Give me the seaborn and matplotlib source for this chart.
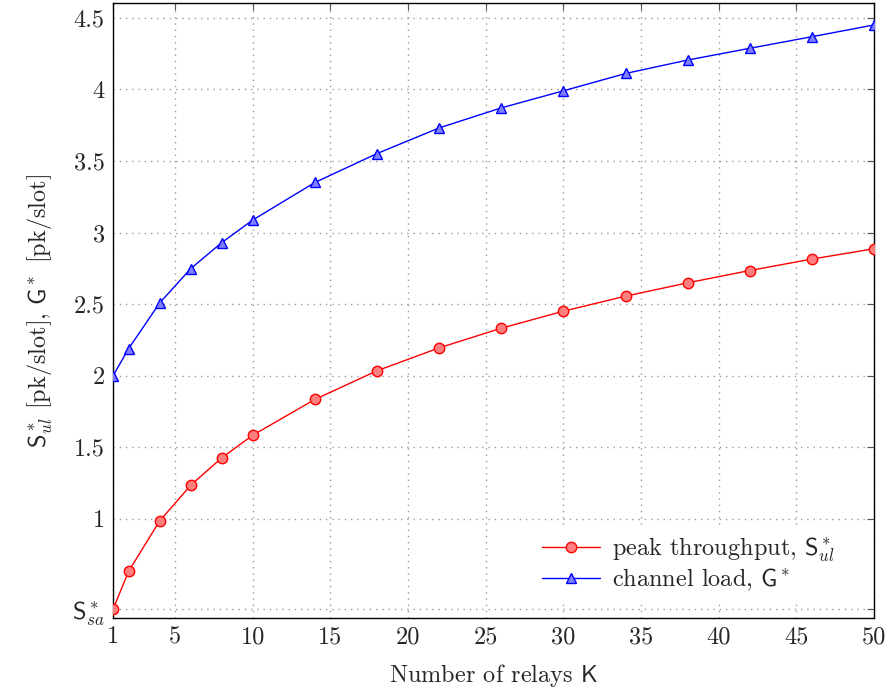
import numpy as np
import pandas as pd
import matplotlib
matplotlib.use("Agg")
import matplotlib.pyplot as plt
import seaborn as sns

# ---------- data ---------- #
relays = [1, 2, 4, 6, 8, 10, 14, 18, 22, 26, 30, 34, 38, 42, 46, 50]
peak_throughput = [0.368, 0.634, 0.986, 1.235, 1.427, 1.585, 1.835, 2.035,
                   2.195, 2.332, 2.451, 2.556, 2.649, 2.735, 2.815, 2.887]
channel_load = [2.0, 2.189, 2.508, 2.748, 2.930, 3.088, 3.350, 3.552,
                3.731, 3.871, 3.990, 4.111, 4.205, 4.287, 4.368, 4.450]
s_sa = 0.368

x_ticks = [1, 5, 10, 15, 20, 25, 30, 35, 40, 45, 50]
y_ticks = [s_sa, 1, 1.5, 2, 2.5, 3, 3.5, 4, 4.5]
y_tick_labels = [r'$\mathsf{S}^*_{sa}$', '1', '1.5', '2', '2.5', '3', '3.5', '4', '4.5']

df = pd.DataFrame({'K': relays, 'S': peak_throughput, 'G': channel_load})

# ---------- style ---------- #
sns.set_style('white')
plt.rcParams['font.family'] = 'serif'
plt.rcParams['font.serif'] = ['cmr10', 'DejaVu Serif']
plt.rcParams['mathtext.fontset'] = 'cm'
plt.rcParams['axes.unicode_minus'] = False
plt.rcParams['axes.formatter.use_mathtext'] = True

fs = 17.5

fig = plt.figure(figsize=(8.88, 6.93), dpi=100)
ax = fig.add_axes([0.1273, 0.1082, 0.857, 0.8874])

sns.lineplot(data=df, x='K', y='S', ax=ax, color='red', lw=1.0,
             marker='o', markersize=7.5, markerfacecolor='#ff7f7f',
             markeredgecolor='red', markeredgewidth=1.0,
             label=r'peak throughput, $\mathsf{S}^*_{ul}$', zorder=3)
sns.lineplot(data=df, x='K', y='G', ax=ax, color='blue', lw=1.0,
             marker='^', markersize=7.5, markerfacecolor='#7f7fff',
             markeredgecolor='blue', markeredgewidth=1.0,
             label=r'channel load, $\mathsf{G}^*$', zorder=3)

ax.set_xlim(1, 50)
ax.set_ylim(0.308, 4.603)
ax.set_xticks(x_ticks)
ax.set_xticklabels([str(t) for t in x_ticks], fontsize=fs)
ax.set_yticks(y_ticks)
ax.set_yticklabels(y_tick_labels, fontsize=fs)

ax.tick_params(direction='in', length=5, width=0.8, color='#555555',
               top=True, right=True, pad=6)
ax.grid(True, color='#999999', linestyle=(0, (1, 3.5)), lw=1.0)
for sp in ax.spines.values():
    sp.set_color('black')
    sp.set_linewidth(1.0)

ax.set_xlabel(r'Number of relays $\mathsf{K}$', fontsize=fs, labelpad=10)
ax.set_ylabel(r'$\mathsf{S}^*_{ul}$ [pk/slot], $\mathsf{G}^*$ [pk/slot]', fontsize=fs, labelpad=12)

leg = ax.legend(loc='lower right', bbox_to_anchor=(0.962, 0.025), fontsize=fs,
                frameon=True, facecolor='white', edgecolor='white', framealpha=1,
                handlelength=2.4, borderaxespad=0, fancybox=False,
                labelspacing=0.12, handletextpad=0.5)

fig.savefig('out.png', dpi=100)
